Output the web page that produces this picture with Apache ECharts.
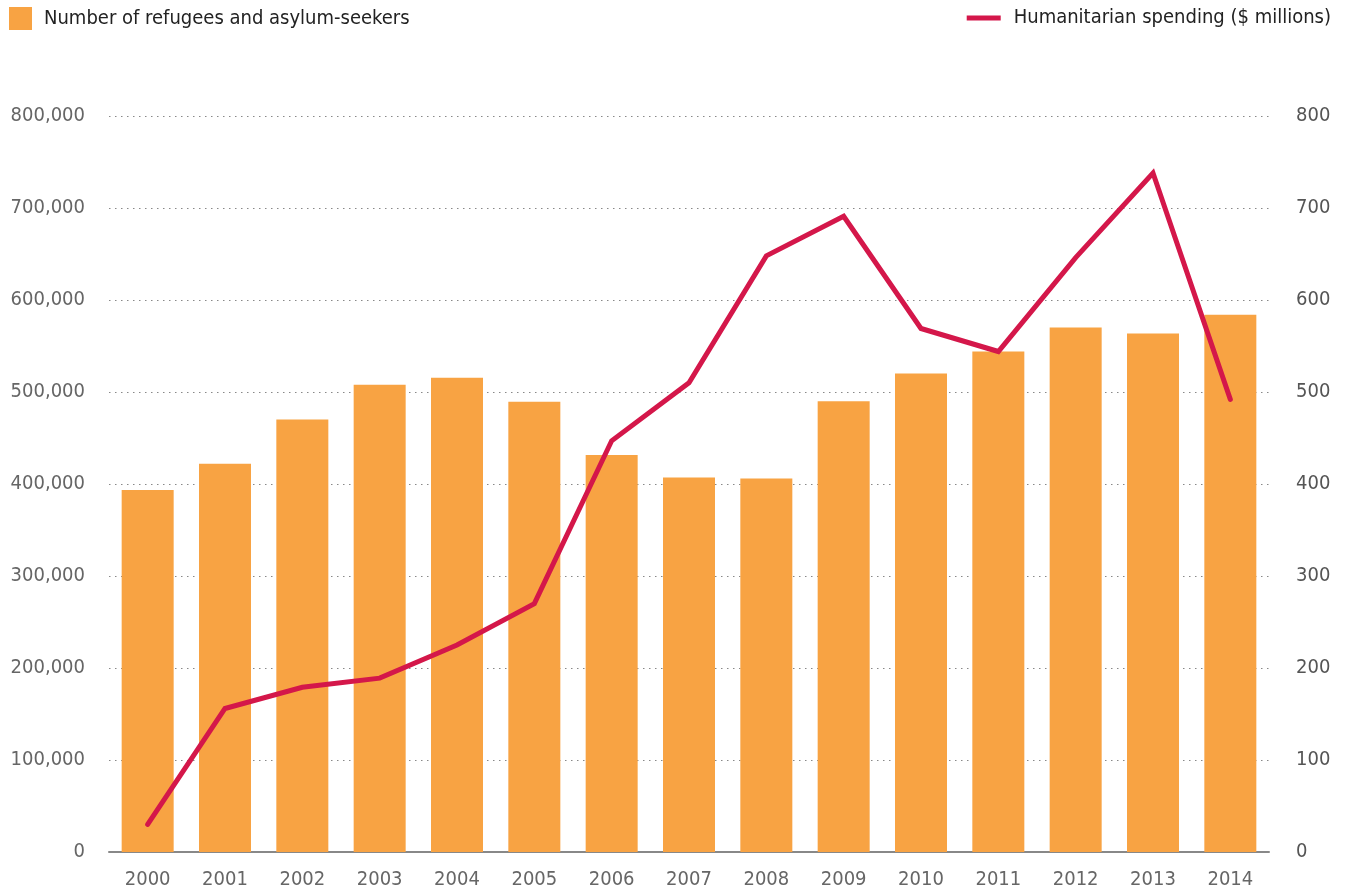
<!DOCTYPE html>
<html>
<head>
<meta charset="utf-8">
<script src="https://cdn.jsdelivr.net/npm/echarts@6/dist/echarts.min.js"></script>
<style>
  html, body { margin: 0; padding: 0; background: #fff; }
  #chart { width: 1345px; height: 891px; }
</style>
</head>
<body>
<div id="chart"></div>
<script>
const years = ['2000', '2001', '2002', '2003', '2004', '2005', '2006', '2007', '2008', '2009', '2010', '2011', '2012', '2013', '2014'];
const refugees = [393500, 422000, 470000, 508000, 515500, 489500, 431500, 407000, 406000, 490000, 520000, 544000, 570000, 563500, 584000];
const spending = [30, 156, 179, 189, 225, 270, 447, 510, 648, 691, 569, 544, 646, 738, 492];

const FONT = "'Liberation Sans Narrow', 'DejaVu Sans Condensed', 'Roboto', sans-serif";
const BAR = '#F8A343';
const LINE = '#D4174A';

const chart = echarts.init(document.getElementById('chart'));

chart.setOption({
  animation: false,
  textStyle: { fontFamily: FONT },
  legend: [
    {
      data: [{ name: 'Number of refugees and asylum-seekers', icon: 'rect' }],
      left: 9, top: 7,
      itemWidth: 23, itemHeight: 23,
      textStyle: { fontFamily: FONT, fontSize: 20, color: '#222', padding: [0, 0, 0, 7] },
      padding: 0
    },
    {
      data: [{ name: 'Humanitarian spending ($ millions)', icon: 'rect' }],
      right: 14, top: 8,
      itemWidth: 34, itemHeight: 5,
      textStyle: { fontFamily: FONT, fontSize: 20, color: '#222', padding: [0, 0, 0, 8] },
      padding: 0
    }
  ],
  grid: { left: 109, right: 76, top: 116, bottom: 39 },
  xAxis: {
    type: 'category',
    data: years,
    axisLine: { lineStyle: { color: '#888', width: 2 } },
    axisTick: { show: false },
    axisLabel: { color: '#666', fontSize: 20, fontFamily: FONT, margin: 18 }
  },
  yAxis: [
    {
      type: 'value', min: 0, max: 800000, interval: 100000,
      axisLine: { show: false }, axisTick: { show: false },
      axisLabel: {
        color: '#666', fontSize: 20, fontFamily: FONT, margin: 24,
        formatter: v => v.toLocaleString('en-US')
      },
      splitLine: { lineStyle: { color: '#888', type: [1.5, 4.5], width: 1 } }
    },
    {
      type: 'value', min: 0, max: 800, interval: 100,
      axisLine: { show: false }, axisTick: { show: false },
      axisLabel: { color: '#555', fontSize: 20, fontFamily: FONT, margin: 27 },
      splitLine: { show: false }
    }
  ],
  series: [
    {
      name: 'Number of refugees and asylum-seekers',
      type: 'bar',
      data: refugees,
      barWidth: 52,
      itemStyle: { color: BAR },
      z: 2
    },
    {
      name: 'Humanitarian spending ($ millions)',
      type: 'line',
      yAxisIndex: 1,
      data: spending,
      symbol: 'none',
      lineStyle: { color: LINE, width: 5, cap: 'round', join: 'miter' },
      itemStyle: { color: LINE },
      z: 3
    }
  ]
});
</script>
</body>
</html>
